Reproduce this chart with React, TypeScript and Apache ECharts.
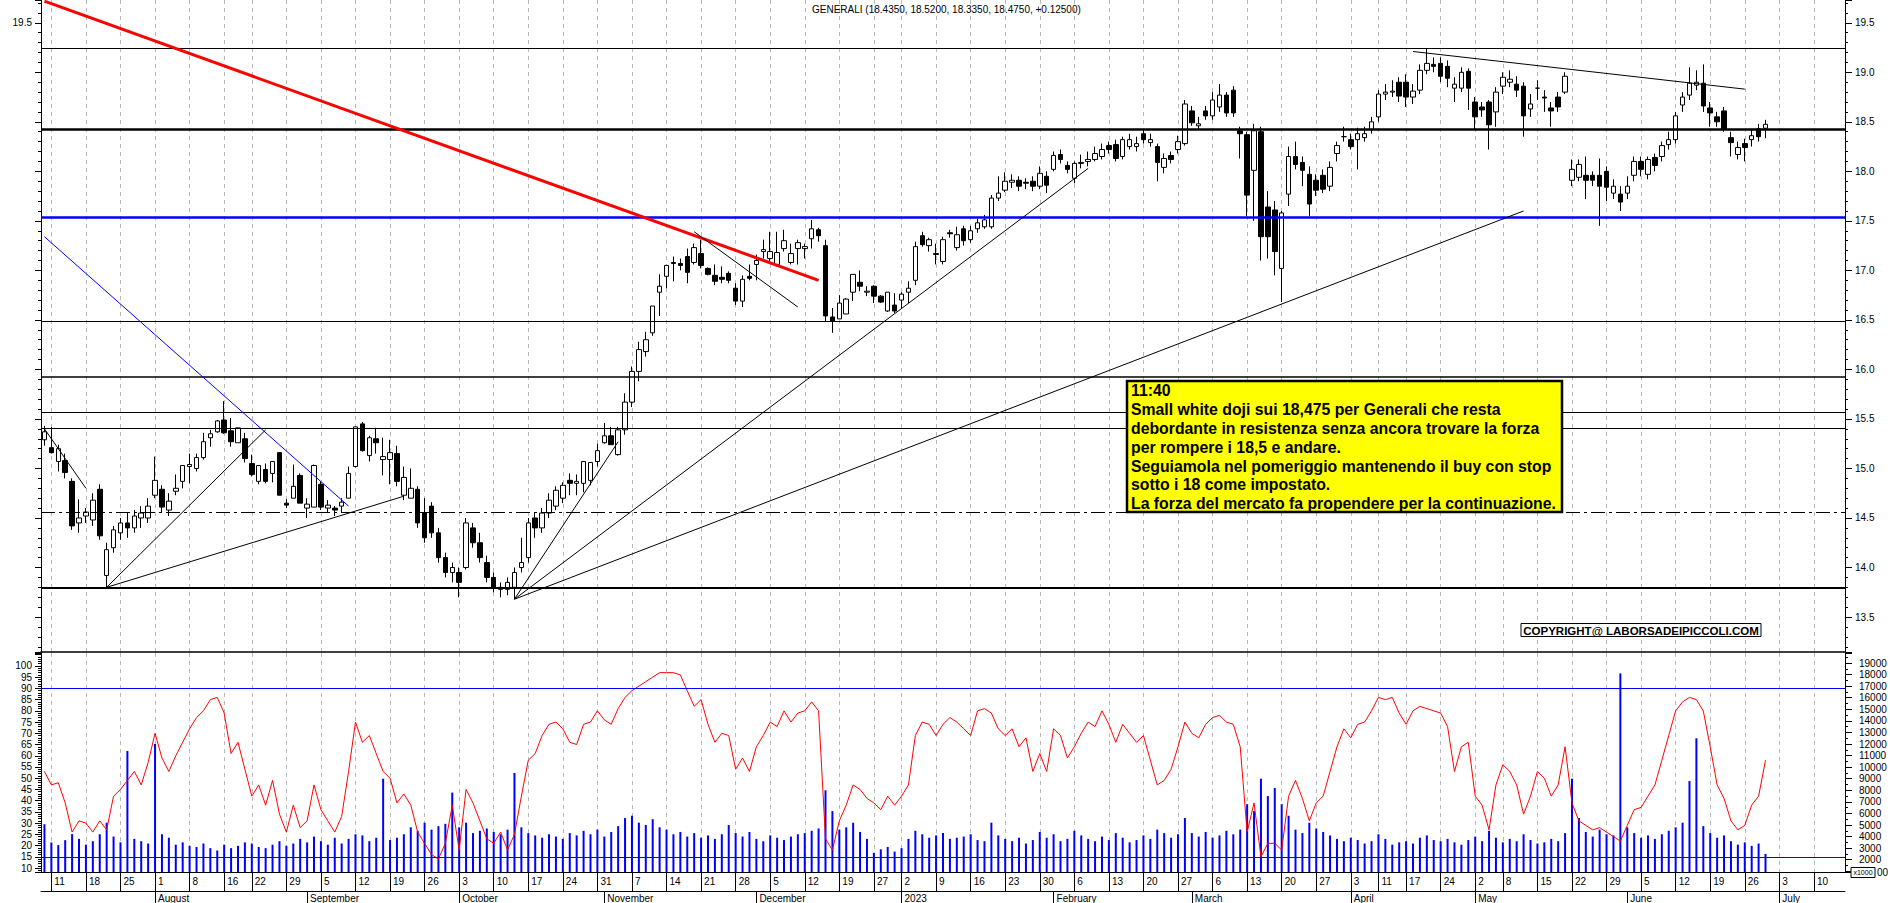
import React, { useEffect, useRef } from "react";
import * as echarts from "echarts";

// ---- calendar (Borsa Italiana trading days) ----
const HOLIDAYS = ["2022-08-15", "2022-12-26", "2023-04-07", "2023-04-10", "2023-05-01"];
const FIRST_DAY = "2022-07-08";
const LAST_AXIS_DAY = "2023-07-14";
const MONTH_NAMES = ["January", "February", "March", "April", "May", "June", "July", "August", "September", "October", "November", "December"];

// ---- daily candles [open, close, low, high], from 2022-07-08 to 2023-06-29 ----
const ohlc: number[][] = [
  [15.29, 15.37, 15.23, 15.43],
  [15.21, 15.16, 15.15, 15.42], [15.07, 15.2, 14.97, 15.24], [15.08, 14.96, 14.9, 15.15], [14.87, 14.42, 14.38, 14.9], [14.45, 14.5, 14.35, 14.69],
  [14.52, 14.56, 14.45, 14.6], [14.48, 14.68, 14.42, 14.75], [14.79, 14.32, 14.28, 14.84], [13.92, 14.18, 13.8, 14.25], [14.2, 14.38, 14.15, 14.42],
  [14.35, 14.45, 14.28, 14.5], [14.45, 14.4, 14.3, 14.55], [14.4, 14.52, 14.35, 14.58], [14.5, 14.55, 14.4, 14.62], [14.5, 14.62, 14.45, 14.7],
  [14.73, 14.88, 14.7, 15.12], [14.79, 14.61, 14.55, 14.83], [14.58, 14.67, 14.52, 14.75], [14.77, 14.8, 14.73, 14.94], [14.87, 15.03, 14.8, 15.03],
  [15.02, 15.04, 14.85, 15.15], [15.0, 15.11, 14.97, 15.15], [15.11, 15.27, 15.09, 15.36], [15.31, 15.35, 15.22, 15.39], [15.37, 15.48, 15.36, 15.49],
  [15.49, 15.36, 15.35, 15.68], [15.38, 15.27, 15.22, 15.51], [15.26, 15.41, 15.26, 15.41], [15.3, 15.1, 15.06, 15.36],
  [15.05, 14.94, 14.92, 15.14], [14.87, 15.03, 14.84, 15.03], [14.99, 14.87, 14.85, 15.05], [14.95, 15.07, 14.86, 15.07], [15.16, 14.73, 14.73, 15.16],
  [14.65, 14.63, 14.6, 14.69], [14.7, 14.82, 14.7, 15.04], [14.93, 14.65, 14.65, 14.95], [14.6, 14.64, 14.5, 14.7], [14.61, 15.03, 14.61, 15.04],
  [14.84, 14.61, 14.58, 14.87], [14.6, 14.63, 14.55, 14.68], [14.6, 14.58, 14.52, 14.62], [14.62, 14.66, 14.55, 14.7], [14.7, 14.95, 14.7, 15.02],
  [15.02, 15.42, 15.01, 15.42], [15.45, 15.18, 15.17, 15.47], [15.13, 15.31, 15.07, 15.33], [15.3, 15.26, 15.15, 15.41], [15.09, 15.12, 14.93, 15.31],
  [15.09, 15.16, 14.84, 15.29], [15.15, 14.87, 14.82, 15.23], [14.73, 14.91, 14.68, 15.02], [14.7, 14.8, 14.7, 15.0], [14.79, 14.45, 14.4, 14.82],
  [14.55, 14.3, 14.25, 14.7], [14.62, 14.35, 14.3, 14.66], [14.35, 14.1, 14.05, 14.4], [14.1, 13.95, 13.9, 14.15], [13.95, 14.0, 13.85, 14.05],
  [13.95, 13.85, 13.7, 14.0], [14.0, 14.45, 13.98, 14.5], [14.4, 14.25, 14.2, 14.45], [14.25, 14.1, 14.05, 14.35], [14.05, 13.9, 13.85, 14.12],
  [13.9, 13.8, 13.75, 13.95], [13.8, 13.78, 13.7, 13.85], [13.78, 13.85, 13.72, 13.9], [13.8, 13.95, 13.68, 14.0], [14.0, 14.05, 13.95, 14.3],
  [14.1, 14.45, 14.05, 14.5], [14.5, 14.4, 14.3, 14.55], [14.4, 14.55, 14.35, 14.6], [14.55, 14.68, 14.5, 14.75], [14.62, 14.78, 14.58, 14.82],
  [14.7, 14.83, 14.65, 14.86], [14.88, 14.85, 14.73, 14.95], [14.85, 14.87, 14.73, 14.94], [14.85, 15.07, 14.76, 15.07], [14.88, 15.06, 14.83, 15.06],
  [15.07, 15.18, 15.02, 15.25], [15.26, 15.33, 15.25, 15.46], [15.33, 15.24, 15.24, 15.42], [15.14, 15.39, 15.13, 15.42], [15.39, 15.67, 15.34, 15.76],
  [15.67, 15.98, 15.62, 16.03], [15.98, 16.2, 15.88, 16.28], [16.18, 16.3, 16.13, 16.38], [16.37, 16.64, 16.34, 16.64], [16.78, 16.84, 16.54, 16.96],
  [16.94, 17.05, 16.82, 17.05], [17.08, 17.07, 16.89, 17.14], [17.07, 17.05, 17.0, 17.12], [17.14, 16.98, 16.87, 17.22], [17.08, 17.23, 17.06, 17.27],
  [17.17, 17.05, 17.02, 17.31], [17.02, 16.96, 16.95, 17.03], [16.95, 16.89, 16.85, 17.06], [16.93, 16.91, 16.87, 17.04], [16.97, 16.9, 16.87, 16.99],
  [16.82, 16.69, 16.65, 16.87], [16.69, 16.91, 16.63, 16.95], [16.94, 16.92, 16.9, 17.06], [17.06, 17.1, 16.9, 17.16], [17.19, 17.21, 17.12, 17.31],
  [17.12, 17.19, 17.07, 17.39], [17.06, 17.18, 17.04, 17.39], [17.22, 17.3, 17.19, 17.41], [17.08, 17.17, 17.06, 17.27], [17.22, 17.28, 17.06, 17.31],
  [17.22, 17.24, 17.12, 17.27], [17.32, 17.42, 17.22, 17.51], [17.41, 17.35, 17.29, 17.43], [17.25, 16.54, 16.48, 17.31], [16.53, 16.49, 16.37, 16.62],
  [16.51, 16.67, 16.51, 16.75], [16.56, 16.71, 16.56, 16.72], [16.78, 16.96, 16.69, 16.96], [16.88, 16.84, 16.79, 17.0], [16.78, 16.79, 16.74, 16.84],
  [16.84, 16.74, 16.67, 16.85], [16.74, 16.68, 16.67, 16.75], [16.59, 16.78, 16.58, 16.78], [16.65, 16.59, 16.57, 16.77],
  [16.7, 16.76, 16.62, 16.78], [16.78, 16.82, 16.67, 16.89], [16.9, 17.24, 16.85, 17.29], [17.35, 17.26, 17.24, 17.39], [17.25, 17.31, 17.19, 17.33],
  [17.16, 17.17, 17.06, 17.27], [17.09, 17.31, 17.06, 17.34], [17.38, 17.37, 17.33, 17.41], [17.23, 17.36, 17.2, 17.44], [17.42, 17.3, 17.25, 17.45],
  [17.31, 17.4, 17.28, 17.45], [17.42, 17.48, 17.38, 17.52], [17.44, 17.51, 17.42, 17.56], [17.44, 17.73, 17.42, 17.76], [17.73, 17.78, 17.7, 17.95],
  [17.81, 17.9, 17.79, 17.99], [17.89, 17.91, 17.83, 17.97], [17.91, 17.85, 17.8, 17.95], [17.89, 17.88, 17.82, 17.93], [17.9, 17.85, 17.8, 17.95],
  [17.85, 17.98, 17.82, 18.05], [17.95, 17.86, 17.78, 18.0], [18.02, 18.16, 18.0, 18.2], [18.17, 18.12, 18.08, 18.22], [18.06, 18.02, 17.98, 18.1],
  [17.93, 18.08, 17.88, 18.1], [18.08, 18.09, 18.03, 18.17], [18.1, 18.12, 18.05, 18.2], [18.12, 18.18, 18.1, 18.25], [18.15, 18.22, 18.12, 18.28],
  [18.26, 18.22, 18.18, 18.3], [18.27, 18.13, 18.1, 18.32], [18.15, 18.32, 18.12, 18.35], [18.25, 18.32, 18.22, 18.38], [18.25, 18.28, 18.2, 18.35],
  [18.38, 18.32, 18.28, 18.42], [18.29, 18.32, 18.25, 18.38], [18.25, 18.09, 17.9, 18.28], [18.04, 18.13, 17.98, 18.18], [18.16, 18.12, 18.08, 18.2],
  [18.22, 18.3, 18.18, 18.36], [18.28, 18.68, 18.26, 18.72], [18.61, 18.49, 18.46, 18.66], [18.46, 18.48, 18.42, 18.55], [18.61, 18.56, 18.52, 18.66],
  [18.56, 18.72, 18.52, 18.8], [18.65, 18.77, 18.6, 18.88], [18.77, 18.59, 18.55, 18.8], [18.82, 18.59, 18.55, 18.86], [18.41, 18.38, 18.13, 18.45],
  [18.37, 17.76, 17.55, 18.4], [18.01, 18.41, 17.5, 18.48], [18.4, 17.34, 17.1, 18.45], [17.64, 17.34, 17.12, 17.8], [17.61, 17.19, 16.95, 17.7],
  [17.02, 17.58, 16.68, 17.6], [17.77, 18.15, 17.65, 18.25], [18.15, 18.07, 18.02, 18.3], [18.09, 18.01, 17.85, 18.15], [17.97, 17.67, 17.55, 18.05],
  [17.91, 17.81, 17.75, 17.97], [17.96, 17.82, 17.78, 18.02], [17.85, 18.04, 17.8, 18.1], [18.18, 18.26, 18.1, 18.3], [18.35, 18.35, 18.3, 18.45],
  [18.32, 18.25, 18.22, 18.38], [18.32, 18.38, 18.02, 18.44], [18.34, 18.38, 18.3, 18.45], [18.42, 18.5, 18.38, 18.55],
  [18.55, 18.78, 18.5, 18.82], [18.78, 18.8, 18.72, 18.88], [18.8, 18.81, 18.75, 18.92], [18.9, 18.76, 18.7, 18.95],
  [18.9, 18.75, 18.65, 18.98], [18.75, 18.81, 18.68, 18.88], [18.82, 19.02, 18.78, 19.08], [19.02, 19.09, 18.98, 19.24], [19.08, 19.06, 19.0, 19.15],
  [19.09, 18.96, 18.9, 19.15], [19.06, 18.94, 18.85, 19.12], [18.84, 18.88, 18.7, 18.95], [18.84, 19.0, 18.8, 19.05],
  [19.01, 18.84, 18.62, 19.04], [18.7, 18.55, 18.42, 18.75], [18.65, 18.62, 18.55, 18.7], [18.7, 18.47, 18.22, 18.72],
  [18.6, 18.8, 18.45, 18.85], [18.86, 18.95, 18.78, 19.0], [18.9, 18.93, 18.85, 19.02], [18.88, 18.82, 18.75, 18.96], [18.86, 18.56, 18.35, 18.9],
  [18.63, 18.68, 18.55, 18.78], [18.84, 18.84, 18.72, 18.92], [18.75, 18.74, 18.6, 18.82], [18.64, 18.61, 18.45, 18.7], [18.75, 18.65, 18.6, 18.8],
  [18.8, 18.96, 18.78, 19.0], [17.91, 18.02, 17.85, 18.12], [17.94, 18.07, 17.9, 18.12], [17.96, 17.91, 17.72, 18.15], [17.96, 17.91, 17.85, 18.0],
  [17.96, 17.85, 17.45, 18.13], [18.0, 17.84, 17.7, 18.05], [17.78, 17.85, 17.72, 17.92], [17.77, 17.69, 17.6, 17.85], [17.78, 17.85, 17.72, 17.95],
  [17.96, 18.1, 17.9, 18.15], [18.1, 18.02, 17.95, 18.15], [17.97, 18.12, 17.92, 18.15], [18.14, 18.06, 18.0, 18.18], [18.15, 18.26, 18.1, 18.3],
  [18.27, 18.32, 18.22, 18.4], [18.32, 18.56, 18.28, 18.6], [18.67, 18.75, 18.6, 18.8], [18.77, 18.89, 18.72, 19.05], [18.87, 18.9, 18.82, 19.02],
  [18.89, 18.66, 18.6, 19.08], [18.64, 18.59, 18.45, 18.7], [18.55, 18.5, 18.45, 18.6], [18.61, 18.43, 18.4, 18.65], [18.34, 18.29, 18.15, 18.4],
  [18.17, 18.24, 18.12, 18.3], [18.28, 18.24, 18.1, 18.33], [18.32, 18.36, 18.25, 18.42], [18.43, 18.35, 18.3, 18.48], [18.435, 18.475, 18.335, 18.52],
];

// ---- oscillator (red line, left scale 10..100) ----
const oscillator: number[] = [
  53, 47, 48, 39, 26, 31, 30, 26, 31, 27, 42, 45, 49, 53, 47, 57, 70, 59, 53, 60,
  66, 72, 77, 80, 85, 86, 79, 61, 66, 54, 42, 47, 38, 49, 34, 26, 38, 28, 31, 47,
  36, 31, 26, 33, 53, 75, 66, 69, 61, 53, 50, 39, 43, 38, 26, 21, 16, 14, 21, 38,
  18, 45, 39, 31, 23, 21, 26, 18, 25, 42, 58, 61, 69, 74, 75, 72, 66, 65, 74, 75,
  80, 76, 74, 81, 86, 89, 91, 93, 95, 97, 97, 97, 96, 89, 82, 85, 74, 66, 70, 69,
  54, 59, 53, 64, 69, 75, 73, 80, 75, 79, 80, 84, 80, 23, 18, 31, 38, 47, 45, 41,
  39, 36, 42, 38, 42, 47, 69, 75, 74, 69, 74, 77, 75, 72, 69, 80, 81, 79, 72, 69,
  72, 64, 68, 53, 61, 53, 72, 69, 59, 64, 70, 75, 73, 80, 74, 66, 74, 70, 66, 69,
  58, 47, 49, 54, 64, 75, 70, 68, 74, 77, 78, 75, 74, 64, 26, 39, 15, 21, 21, 18,
  42, 49, 41, 31, 39, 42, 53, 64, 72, 68, 74, 75, 80, 86, 85, 86, 79, 74, 80, 82,
  81, 80, 79, 73, 53, 64, 66, 42, 38, 27, 47, 56, 53, 47, 34, 42, 53, 50, 42, 47,
  64, 39, 31, 29, 27, 28, 26, 24, 22, 29, 36, 37, 42, 47, 58, 69, 80, 84, 86, 85,
  80, 64, 47, 41, 31, 27, 29, 38, 42, 58,
];

// ---- volume (blue bars, right scale, x1000) ----
const volume: number[] = [
  5070, 3490, 3260, 3690, 4210, 3800, 3300, 3600, 4200, 5200, 4000, 3500, 11400, 3800, 3600, 3400, 12000, 4200, 3900, 3300,
  3500, 3200, 3100, 3400, 3000, 2800, 3300, 3000, 3200, 3500, 3400, 3100, 3000, 3300, 3600, 3200, 3400, 3800, 3500, 4000,
  3600, 3300, 3900, 3400, 3800, 4200, 4100, 3600, 3900, 9000, 3700, 3900, 4200, 4800, 4500, 5200, 4600, 4900, 5100, 7800,
  4800, 5200, 4300, 4500, 4700, 4400, 4200, 4600, 9500, 4800, 4300, 4100, 3900, 4200, 4000, 3800, 4300, 4100, 4500, 4200,
  4600, 4000, 4400, 4900, 5600, 5800, 5200, 5000, 5500, 4800, 4600, 4200, 4400, 4000, 4300, 3900, 4100, 3800, 4200, 5000,
  4300, 4000, 4400, 3800, 3600, 4100, 3900, 3700, 4000, 4200, 4300, 4500, 4700, 8000, 6200, 4600, 4800, 5200, 4400, 3800,
  2600, 2900, 3100, 2700, 3000, 3800, 4500, 4200, 3900, 4100, 4300, 3800, 3900, 4000, 4200, 3700, 3600, 5200, 4100, 3800,
  3600, 3900, 3400, 3700, 4400, 3900, 4200, 3600, 3800, 4500, 4100, 3800, 3600, 4000, 3700, 4300, 3900, 3500, 3700, 4100,
  3800, 4600, 4300, 3900, 4200, 5600, 4300, 4000, 4400, 3900, 4100, 4500, 4200, 4600, 6800, 6200, 9000, 7500, 8200, 6800,
  5800, 4600, 4300, 5200, 4700, 4400, 4100, 3800, 3600, 3900, 3700, 3400, 3600, 4200, 3800, 3300, 3500, 3600, 3400, 3900,
  4100, 3700, 3600, 3800, 3500, 3300, 3700, 4000, 3600, 4500, 3900, 3500, 3800, 3600, 4200, 3700, 3400, 3500, 3800, 3600,
  4300, 9000, 5600, 4400, 4000, 4600, 4200, 4100, 18100, 4800, 4300, 3900, 4100, 3800, 4200, 4500, 4800, 5200, 8800, 12500,
  4900, 4300, 3900, 4100, 3600, 3300, 3500, 3200, 3400, 2500,
];

// ---- analyst drawings, in data coordinates (trading-day index, price) ----
const priceLevels = [
  { value: 19.24, color: "#000000", width: 1.2, type: "solid" },
  { value: 18.43, color: "#000000", width: 2.5, type: "solid" },
  { value: 17.54, color: "#0000ff", width: 2.5, type: "solid" },
  { value: 16.49, color: "#000000", width: 1.2, type: "solid" },
  { value: 15.93, color: "#000000", width: 1.6, type: "solid" },
  { value: 15.57, color: "#000000", width: 1.2, type: "solid" },
  { value: 15.41, color: "#000000", width: 1.2, type: "solid" },
  { value: 14.56, color: "#000000", width: 1.2, type: "dashdot" },
  { value: 13.8, color: "#000000", width: 2.2, type: "solid" },
];
const trendLines = [
  { from: [0, 19.718], to: [112, 16.9], color: "#ff0000", width: 3 },
  { from: [0, 17.34], to: [44, 14.62], color: "#0000ff", width: 1 },
  { from: [0, 15.4], to: [6, 14.8], color: "#000000", width: 1 },
  { from: [9, 13.8], to: [32, 15.39], color: "#000000", width: 1 },
  { from: [9, 13.8], to: [52, 14.72], color: "#000000", width: 1 },
  { from: [68, 13.68], to: [83, 15.27], color: "#000000", width: 1 },
  { from: [68, 13.68], to: [151, 18.03], color: "#000000", width: 1 },
  { from: [68, 13.68], to: [214, 17.6], color: "#000000", width: 1 },
  { from: [94, 17.39], to: [109, 16.63], color: "#000000", width: 1 },
  { from: [198, 19.21], to: [246, 18.83], color: "#000000", width: 1 },
];
const oscLevels = [90, 15];
const leftPriceLabels = [19.5];

const TITLE = "GENERALI (18.4350, 18.5200, 18.3350, 18.4750, +0.12500)";
const NOTE_LINES = [
  "11:40",
  "Small white doji sui 18,475 per Generali che resta",
  "debordante in resistenza senza ancora trovare la forza",
  "per rompere i 18,5 e andare.",
  "Seguiamola nel pomeriggio mantenendo il buy con stop",
  "sotto i 18 come impostato.",
  "La forza del mercato fa propendere per la continuazione.",
];
const COPYRIGHT = "COPYRIGHT@ LABORSADEIPICCOLI.COM";

// price scale range and lower panel ranges
const PRICE_MIN = 13.147;
const PRICE_MAX = 19.73;
const OSC_MIN = 8.23;
const OSC_MAX = 105.76;
const VOL_MIN = 938;
const VOL_MAX = 19866;

function buildCalendar(): string[] {
  const out: string[] = [];
  const d = new Date(FIRST_DAY + "T00:00:00Z");
  const end = new Date(LAST_AXIS_DAY + "T00:00:00Z").getTime();
  while (d.getTime() <= end) {
    const wd = d.getUTCDay();
    const s = d.toISOString().slice(0, 10);
    if (wd !== 0 && wd !== 6 && HOLIDAYS.indexOf(s) < 0) out.push(s);
    d.setUTCDate(d.getUTCDate() + 1);
  }
  return out;
}

const FONT = '"Liberation Sans", Arial, sans-serif';

export default function App() {
  const ref = useRef<HTMLDivElement>(null);
  useEffect(() => {
    if (!ref.current) return;
    const chart = echarts.init(ref.current, undefined, { renderer: "svg" });
    const cats = buildCalendar();
    const wd = (s: string) => new Date(s + "T00:00:00Z").getUTCDay();
    const weekStart = cats.map((c, i) => i > 0 && wd(c) < wd(cats[i - 1]));
    const monthStart = cats.map((c, i) => i > 0 && c.slice(5, 7) !== cats[i - 1].slice(5, 7));
    const weekFn = (idx: number) => !!weekStart[idx];
    const monthFn = (idx: number) => !!monthStart[idx];
    const dayFmt = (v: string) => String(Number(v.slice(8, 10)));
    const monthFmt = (v: string) => {
      const m = Number(v.slice(5, 7));
      return m === 1 ? v.slice(0, 4) : MONTH_NAMES[m - 1];
    };
    const isMult = (v: number, step: number) => Math.abs(v / step - Math.round(v / step)) < 1e-6;
    const gridLine = { show: true, interval: weekFn, alignWithLabel: true, lineStyle: { color: "#b9b9b9", type: [4, 4], width: 1 } };
    const lineType = (t: string) => (t === "dashdot" ? [14, 4, 3, 4] : t);

    const markLevels = priceLevels.map((l) => ({
      yAxis: l.value,
      lineStyle: { color: l.color, width: l.width, type: lineType(l.type) },
    }));
    const markTrends = trendLines.map((t) => [
      { coord: t.from, lineStyle: { color: t.color, width: t.width, type: "solid" } },
      { coord: t.to },
    ]);

    const option: any = {
      animation: false,
      backgroundColor: "#ffffff",
      textStyle: { fontFamily: FONT },
      grid: [
        { left: 41, right: 45, top: 0, height: 652 },
        { left: 41, right: 45, top: 653, height: 220 },
      ],
      xAxis: [
        {
          gridIndex: 0, type: "category", data: cats, boundaryGap: true,
          axisLine: { show: true, onZero: false, lineStyle: { color: "#000", width: 1.5 } },
          axisTick: { show: false }, axisLabel: { show: false },
          splitLine: gridLine,
        },
        {
          gridIndex: 1, type: "category", data: cats, boundaryGap: true, position: "bottom",
          axisLine: { show: true, onZero: false, lineStyle: { color: "#000", width: 1 } },
          axisTick: { show: true, interval: weekFn, alignWithLabel: true, length: 19, lineStyle: { color: "#000" } },
          axisLabel: { interval: weekFn, formatter: dayFmt, align: "left", padding: [0, 0, 0, 3], margin: 4, fontSize: 10, color: "#000", fontFamily: FONT },
          splitLine: gridLine,
        },
        {
          gridIndex: 1, type: "category", data: cats, boundaryGap: true, position: "bottom", offset: 19,
          axisLine: { show: true, onZero: false, lineStyle: { color: "#000", width: 1 } },
          axisTick: { show: true, interval: monthFn, alignWithLabel: true, length: 12, lineStyle: { color: "#000" } },
          axisLabel: { interval: monthFn, formatter: monthFmt, align: "left", padding: [0, 0, 0, 3], margin: 2, fontSize: 10, color: "#000", fontFamily: FONT },
          splitLine: { show: false },
        },
      ],
      yAxis: [
        {
          gridIndex: 0, type: "value", position: "right", min: PRICE_MIN, max: PRICE_MAX,
          splitNumber: 13, minInterval: 0.5, maxInterval: 0.5,
          axisLine: { show: true, lineStyle: { color: "#000" } },
          axisTick: { show: true, length: 7, lineStyle: { color: "#000" } },
          minorTick: { show: true, splitNumber: 5, length: 3, lineStyle: { color: "#000" } },
          axisLabel: { show: true, formatter: (v: number) => (isMult(v, 0.5) ? v.toFixed(1) : ""), fontSize: 10, color: "#000", margin: 10, fontFamily: FONT },
          splitLine: { show: false },
        },
        {
          gridIndex: 0, type: "value", position: "left", min: PRICE_MIN, max: PRICE_MAX,
          splitNumber: 13, minInterval: 0.5, maxInterval: 0.5,
          axisLine: { show: true, lineStyle: { color: "#000" } },
          axisTick: { show: true, length: 6, lineStyle: { color: "#000" } },
          minorTick: { show: true, splitNumber: 5, length: 3, lineStyle: { color: "#000" } },
          axisLabel: {
            show: true,
            formatter: (v: number) => (leftPriceLabels.some((p) => Math.abs(p - v) < 1e-6) ? v.toFixed(1) : ""),
            fontSize: 10, color: "#000", margin: 9, fontFamily: FONT,
          },
          splitLine: { show: false },
        },
        {
          gridIndex: 1, type: "value", position: "left", min: OSC_MIN, max: OSC_MAX,
          splitNumber: 19, minInterval: 5, maxInterval: 5,
          axisLine: { show: true, lineStyle: { color: "#000" } },
          axisTick: { show: true, length: 6, lineStyle: { color: "#000" } },
          minorTick: { show: true, splitNumber: 5, length: 3, lineStyle: { color: "#000" } },
          axisLabel: { formatter: (v: number) => (isMult(v, 5) && v >= 10 && v <= 100 ? String(v) : ""), fontSize: 10, color: "#000", margin: 9, fontFamily: FONT },
          splitLine: { show: false },
        },
        {
          gridIndex: 1, type: "value", position: "right", min: VOL_MIN, max: VOL_MAX,
          splitNumber: 19, minInterval: 1000, maxInterval: 1000,
          axisLine: { show: true, lineStyle: { color: "#000" } },
          axisTick: { show: true, length: 7, lineStyle: { color: "#000" } },
          minorTick: { show: true, splitNumber: 2, length: 3, lineStyle: { color: "#000" } },
          axisLabel: { formatter: (v: number) => (isMult(v, 1000) && v >= 2000 && v <= 19000 ? String(v) : ""), fontSize: 10, color: "#000", margin: 14, fontFamily: FONT },
          splitLine: { show: false },
        },
      ],
      series: [
        {
          type: "candlestick", xAxisIndex: 0, yAxisIndex: 0, data: ohlc, barWidth: 5,
          itemStyle: { color: "#ffffff", color0: "#000000", borderColor: "#000000", borderColor0: "#000000", borderColorDoji: "#000000", borderWidth: 1 },
          markLine: { silent: true, symbol: ["none", "none"], label: { show: false }, data: [...markLevels, ...markTrends] },
        },
        {
          type: "bar", xAxisIndex: 1, yAxisIndex: 3, data: volume, barWidth: 2,
          itemStyle: { color: "#0000ff" },
        },
        {
          type: "line", xAxisIndex: 1, yAxisIndex: 2, data: oscillator, symbol: "none",
          lineStyle: { color: "#ff0000", width: 1 },
          markLine: {
            silent: true, symbol: ["none", "none"], label: { show: false },
            data: oscLevels.map((v) => ({ yAxis: v, lineStyle: { color: "#0000ff", width: 1, type: "solid" } })),
          },
        },
      ],
      graphic: [
        { type: "text", z: 100, x: 812, y: 9, style: { text: TITLE, font: `10px ${FONT}`, fill: "#000", align: "left", verticalAlign: "middle", textAlign: "left", textVerticalAlign: "middle" } },
        { type: "rect", z: 100, shape: { x: 1127, y: 381, width: 435, height: 131 }, style: { fill: "#ffff00", stroke: "#000", lineWidth: 2.5 } },
        { type: "text", z: 101, x: 1131, y: 381, style: { text: NOTE_LINES.join("\n"), font: `bold 15.8px ${FONT}`, lineHeight: 18.9, fill: "#000", align: "left", verticalAlign: "top", textAlign: "left", textVerticalAlign: "top" } },
        { type: "rect", z: 100, shape: { x: 1521, y: 623.5, width: 240, height: 13 }, style: { fill: "#ffffff", stroke: "#000", lineWidth: 1 } },
        { type: "text", z: 101, x: 1641, y: 630.5, style: { text: COPYRIGHT, font: `bold 11.5px ${FONT}`, fill: "#000", align: "center", verticalAlign: "middle", textAlign: "center", textVerticalAlign: "middle" } },
        { type: "rect", z: 100, shape: { x: 1851, y: 867.5, width: 24, height: 10 }, style: { fill: "#ffffff", stroke: "#000", lineWidth: 1 } },
        { type: "text", z: 101, x: 1863, y: 872.5, style: { text: "x1000", font: `7px ${FONT}`, fill: "#000", align: "center", verticalAlign: "middle", textAlign: "center", textVerticalAlign: "middle" } },
        { type: "text", z: 101, x: 1877, y: 872.5, style: { text: "00", font: `10px ${FONT}`, fill: "#000", align: "left", verticalAlign: "middle", textAlign: "left", textVerticalAlign: "middle" } },
      ],
    };
    chart.setOption(option);
    return () => chart.dispose();
  }, []);
  return <div ref={ref} style={{ position: "absolute", left: 0, top: 0, width: 1890, height: 903 }} />;
}
